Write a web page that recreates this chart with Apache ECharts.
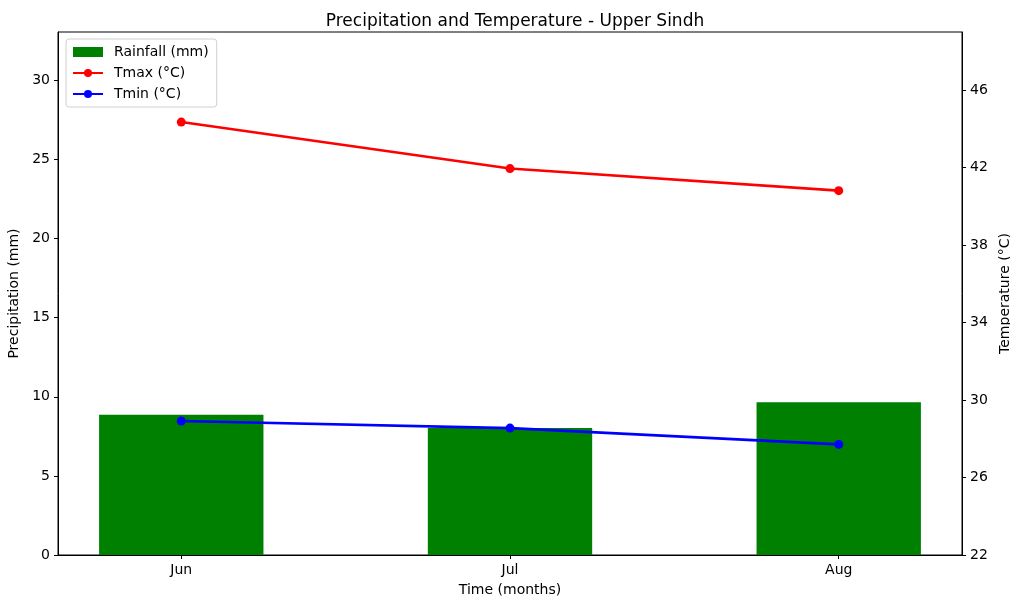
<!DOCTYPE html>
<html>
<head>
<meta charset="utf-8">
<script src="https://cdn.jsdelivr.net/npm/echarts@6/dist/echarts.min.js"></script>
<style>
  html, body { margin: 0; padding: 0; background: #fff; }
  #chart { width: 1010px; height: 602px; }
</style>
</head>
<body>
<div id="chart"></div>
<script>
// Monthly values for Upper Sindh
const months = ['Jun', 'Jul', 'Aug'];
const rainfall = [8.86, 8.02, 9.65];   // mm
const tmax = [44.35, 41.95, 40.81];    // °C
const tmin = [28.92, 28.55, 27.71];    // °C

const precipTicks = [0, 5, 10, 15, 20, 25, 30];
const tempTicks = [22, 26, 30, 34, 38, 42, 46];

const FONT = 'DejaVu Sans';
const monthIdx = months.map((m, i) => i);

const chart = echarts.init(document.getElementById('chart'), null, { renderer: 'canvas' });

const axisText = { color: '#000', fontFamily: FONT, fontSize: 14 };

chart.setOption({
  animation: false,
  backgroundColor: '#fff',
  title: {
    text: 'Precipitation and Temperature - Upper Sindh',
    left: 510, top: 8, textAlign: 'center',
    textStyle: { color: '#000', fontFamily: FONT, fontSize: 17, fontWeight: 'normal' }
  },
  grid: {
    left: 58, right: 48, top: 32, bottom: 47,
    outerBoundsMode: 'none',
    show: true, borderColor: '#000', borderWidth: 1, backgroundColor: 'transparent'
  },
  legend: {
    orient: 'vertical', left: 66, top: 39,
    padding: [6, 8, 6, 6], itemGap: 7,
    itemWidth: 30, itemHeight: 10,
    borderColor: '#d0d0d0', borderWidth: 1, borderRadius: 3,
    backgroundColor: 'rgba(255,255,255,0.8)',
    textStyle: { color: '#000', fontFamily: FONT, fontSize: 14, padding: [0, 0, 0, 6] },
    data: [
      { name: 'Rainfall (mm)', icon: 'rect' },
      { name: 'Tmax (°C)' },
      { name: 'Tmin (°C)' }
    ]
  },
  xAxis: {
    type: 'value', min: -0.375, max: 2.375,
    name: 'Time (months)', nameLocation: 'middle', nameGap: 28,
    nameTextStyle: axisText,
    axisLine: { show: true, onZero: false, lineStyle: { color: '#000', width: 1 } },
    axisTick: { show: true, customValues: monthIdx, length: 4, lineStyle: { color: '#000' } },
    axisLabel: { ...axisText, customValues: monthIdx, margin: 8, formatter: v => months[Math.round(v)] },
    splitLine: { show: false }
  },
  yAxis: [
    {
      type: 'value', min: 0, max: 33.05, position: 'left',
      name: 'Precipitation (mm)', nameLocation: 'middle', nameGap: 34, nameRotate: 90,
      nameTextStyle: axisText,
      axisLine: { show: true, onZero: false, lineStyle: { color: '#000', width: 1 } },
      axisTick: { show: true, customValues: precipTicks, length: 4, lineStyle: { color: '#000' } },
      axisLabel: { ...axisText, customValues: precipTicks, margin: 8 },
      splitLine: { show: false }
    },
    {
      type: 'value', min: 22, max: 49.0, position: 'right',
      name: 'Temperature (°C)', nameLocation: 'middle', nameGap: 33, nameRotate: 90,
      nameTextStyle: axisText,
      axisLine: { show: true, onZero: false, lineStyle: { color: '#000', width: 1 } },
      axisTick: { show: true, customValues: tempTicks, length: 4, lineStyle: { color: '#000' } },
      axisLabel: { ...axisText, customValues: tempTicks, margin: 8 },
      splitLine: { show: false }
    }
  ],
  series: [
    {
      name: 'Rainfall (mm)', type: 'bar', yAxisIndex: 0,
      barWidth: '50%',
      itemStyle: { color: '#008000' },
      data: monthIdx.map(i => [i, rainfall[i]])
    },
    {
      name: 'Tmax (°C)', type: 'line', yAxisIndex: 1,
      symbol: 'circle', symbolSize: 9,
      lineStyle: { color: '#ff0000', width: 2.6 },
      itemStyle: { color: '#ff0000' },
      data: monthIdx.map(i => [i, tmax[i]])
    },
    {
      name: 'Tmin (°C)', type: 'line', yAxisIndex: 1,
      symbol: 'circle', symbolSize: 9,
      lineStyle: { color: '#0000ff', width: 2.6 },
      itemStyle: { color: '#0000ff' },
      data: monthIdx.map(i => [i, tmin[i]])
    }
  ]
});
</script>
</body>
</html>
